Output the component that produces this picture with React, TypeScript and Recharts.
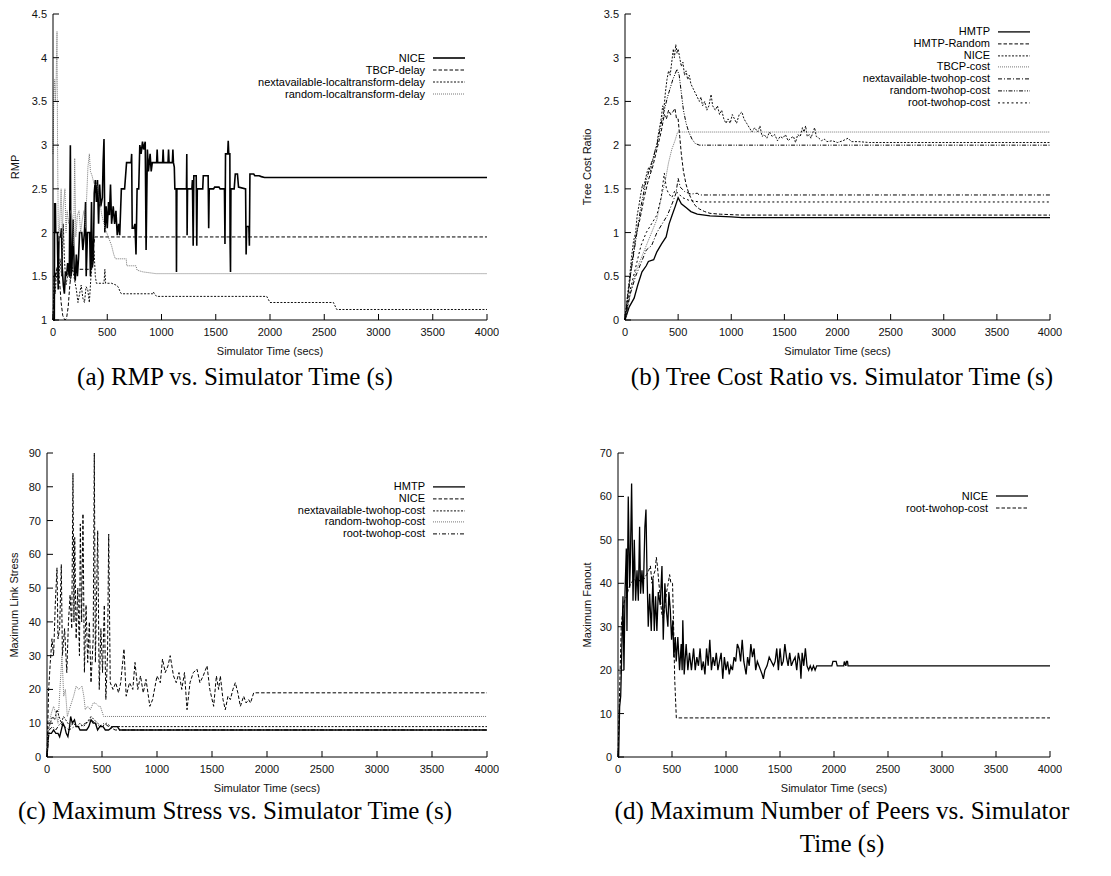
import { Legend, Line, LineChart, XAxis, YAxis } from 'recharts'

type Pt = [number, number]

const SANS = '"Liberation Sans", Arial, sans-serif'
const SERIF = '"Liberation Serif", "Times New Roman", serif'

const timeTicks = [0, 500, 1000, 1500, 2000, 2500, 3000, 3500, 4000]
const rmpTicks = [1, 1.5, 2, 2.5, 3, 3.5, 4, 4.5]
const costTicks = [0, 0.5, 1, 1.5, 2, 2.5, 3, 3.5]
const stressTicks = [0, 10, 20, 30, 40, 50, 60, 70, 80, 90]
const fanoutTicks = [0, 10, 20, 30, 40, 50, 60, 70]

// (a) RMP
const rmpNice: Pt[] = [
  [0, 1], [12, 1], [15, 2.33], [22, 2.33], [25, 2], [40, 2], [48, 1.35], [55, 1.95], [70, 1.95], [78, 2.05],
  [85, 1.6], [95, 1.4], [105, 1.3], [115, 1.55], [125, 1.5], [135, 1.65], [150, 1.5], [160, 3], [166, 1.5],
  [175, 1.6], [185, 2.15], [195, 1.6], [205, 1.45], [215, 1.75], [225, 1.5], [235, 1.7], [245, 2], [265, 2],
  [275, 1.8], [290, 2], [300, 2.35], [306, 1.5], [318, 2], [338, 2], [345, 1.5], [355, 2.35], [362, 1.6],
  [372, 1.7], [380, 2.45], [390, 2.6], [400, 2.35], [410, 2.6], [420, 2.1], [430, 2.55], [440, 2.3],
  [455, 2.4], [462, 2.8], [470, 3.07], [478, 2], [490, 2.3], [500, 2.05], [512, 2.35], [520, 2.2],
  [530, 2.55], [540, 2.1], [555, 2.3], [568, 2.1], [580, 2.25], [592, 1.97], [605, 2.1], [615, 1.97],
  [630, 2.5], [660, 2.5], [678, 2.8], [720, 2.8], [725, 2.9], [730, 2.05], [745, 2.05], [755, 2.1],
  [765, 1.75], [775, 2.5], [790, 2.5], [800, 3], [812, 2.9], [825, 3.04], [835, 2.95], [850, 3.04],
  [858, 1.8], [870, 2.95], [880, 2.7], [895, 2.9], [905, 2.7], [915, 2.8], [955, 2.8], [960, 2.95],
  [965, 2.8], [1010, 2.8], [1015, 2.95], [1020, 2.8], [1060, 2.8], [1065, 2.95], [1070, 2.8], [1100, 2.8],
  [1105, 2.95], [1110, 2.8], [1118, 2.75], [1123, 2.5], [1135, 2.5], [1138, 1.55], [1142, 2.5], [1230, 2.5],
  [1233, 2.9], [1236, 1.97], [1240, 2.5], [1280, 2.5], [1285, 2.6], [1292, 1.85], [1298, 2.65], [1320, 2.65],
  [1325, 1.85], [1330, 2.5], [1380, 2.5], [1385, 2.65], [1430, 2.65], [1435, 2.05], [1440, 2.5], [1480, 2.5],
  [1490, 2.52], [1530, 2.52], [1540, 2.5], [1580, 2.5], [1585, 1.87], [1590, 2.9], [1610, 2.9], [1615, 3.05],
  [1620, 2.9], [1630, 2.9], [1632, 1.9], [1636, 1.55], [1640, 2.5], [1670, 2.5], [1680, 2.67], [1700, 2.67],
  [1710, 2.52], [1775, 2.5], [1780, 1.75], [1785, 2.07], [1805, 2.07], [1810, 1.85], [1815, 2.67],
  [1850, 2.67], [1860, 2.65], [1900, 2.65], [1920, 2.64], [1950, 2.63], [4000, 2.63],
]
const rmpTbcp: Pt[] = [
  [0, 1], [10, 1.3], [25, 1.55], [45, 1.6], [60, 1.45], [75, 1.2], [90, 1.05], [110, 1], [125, 1.02],
  [140, 1.15], [155, 1.4], [170, 1.55], [185, 1.58], [355, 1.58], [365, 1.7], [375, 1.85], [385, 1.95], [4000, 1.95],
]
const rmpNextAvail: Pt[] = [
  [0, 1], [10, 1.5], [20, 1.3], [35, 1.6], [50, 1.4], [65, 1.7], [80, 1.5], [95, 2.1], [105, 1.7], [120, 1.4],
  [140, 1.55], [160, 1.45], [180, 1.6], [200, 1.45], [215, 1.35], [230, 1.2], [245, 1.3], [260, 1.4],
  [275, 1.25], [290, 1.2], [305, 1.38], [320, 1.35], [335, 1.2], [350, 1.5], [365, 1.7], [378, 1.8],
  [390, 1.5], [400, 1.42], [470, 1.42], [478, 1.58], [485, 1.42], [540, 1.42], [580, 1.4], [600, 1.38],
  [620, 1.32], [630, 1.3], [920, 1.3], [925, 1.32], [935, 1.3], [955, 1.27], [1970, 1.27], [2000, 1.2],
  [2585, 1.2], [2615, 1.12], [4000, 1.12],
]
const rmpRandom: Pt[] = [
  [0, 2.9], [8, 3.6], [15, 3.75], [22, 3.5], [30, 3.8], [37, 4.3], [42, 3], [48, 2.1], [55, 1.9], [65, 2.2],
  [75, 2.5], [85, 1.95], [95, 2.3], [110, 2.5], [120, 2], [130, 2.25], [145, 2.1], [160, 2.25], [175, 2.2],
  [190, 1.85], [200, 2.85], [210, 1.95], [225, 2.2], [240, 2.25], [255, 2], [270, 2.15], [285, 2.25],
  [300, 2.05], [310, 2.4], [322, 2.75], [335, 2.9], [345, 2.7], [360, 2.65], [380, 2.55], [405, 2.55],
  [425, 2.4], [450, 2.2], [480, 2.05], [510, 1.95], [540, 1.85], [560, 1.75], [575, 1.7], [675, 1.7],
  [680, 1.62], [765, 1.62], [775, 1.57], [830, 1.55], [950, 1.53], [4000, 1.53],
]

// (b) tree cost ratio
const costHmtp: Pt[] = [
  [0, 0], [40, 0.15], [86, 0.25], [120, 0.4], [160, 0.55], [200, 0.62], [220, 0.67], [270, 0.69], [300, 0.78],
  [344, 0.87], [387, 0.95], [415, 1.1], [444, 1.2], [473, 1.3], [500, 1.4], [530, 1.33], [580, 1.28],
  [620, 1.24], [680, 1.21], [800, 1.19], [1000, 1.18], [1100, 1.17], [4000, 1.17],
]
const costHmtpRandom: Pt[] = [
  [0, 0], [30, 0.3], [60, 0.6], [100, 0.95], [140, 1.15], [180, 1.4], [220, 1.6], [260, 1.75], [300, 1.95],
  [340, 2.15], [370, 2.35], [390, 2.3], [410, 2.4], [430, 2.35], [450, 2.38], [470, 2.42], [485, 2.3],
  [500, 2.3], [515, 2.1], [530, 1.9], [550, 1.7], [575, 1.55], [600, 1.45], [630, 1.37], [660, 1.31],
  [700, 1.27], [750, 1.24], [800, 1.22], [900, 1.21], [1100, 1.2], [4000, 1.2],
]
const costNice: Pt[] = [
  [0, 0], [20, 0.25], [40, 0.45], [60, 0.7], [80, 0.9], [100, 1], [115, 1.2], [130, 1.3], [150, 1.45],
  [165, 1.55], [175, 1.5], [190, 1.6], [210, 1.7], [225, 1.75], [240, 1.7], [255, 1.8], [270, 1.85],
  [285, 1.95], [300, 2], [310, 2.1], [325, 2.2], [340, 2.3], [355, 2.45], [365, 2.4], [380, 2.6],
  [395, 2.75], [410, 2.85], [425, 2.8], [440, 2.95], [455, 3.1], [465, 3], [478, 3.15], [490, 3.05],
  [500, 3.1], [515, 3], [530, 2.9], [545, 2.95], [560, 2.8], [575, 2.85], [590, 2.75], [605, 2.8],
  [620, 2.7], [640, 2.65], [660, 2.6], [680, 2.55], [700, 2.5], [715, 2.55], [730, 2.45], [750, 2.5],
  [770, 2.4], [790, 2.45], [810, 2.58], [825, 2.45], [850, 2.4], [870, 2.45], [890, 2.35], [910, 2.4],
  [930, 2.3], [950, 2.25], [970, 2.3], [990, 2.25], [1010, 2.35], [1030, 2.3], [1050, 2.25], [1075, 2.35],
  [1100, 2.38], [1120, 2.3], [1145, 2.25], [1170, 2.2], [1195, 2.15], [1220, 2.2], [1250, 2.15],
  [1270, 2.22], [1290, 2.1], [1310, 2.12], [1335, 2.08], [1360, 2.15], [1385, 2.1], [1410, 2.12],
  [1435, 2.05], [1460, 2.1], [1485, 2.08], [1510, 2.12], [1535, 2.05], [1560, 2.08], [1585, 2.1],
  [1605, 2.03], [1625, 2.12], [1650, 2.1], [1670, 2.2], [1685, 2.15], [1700, 2.22], [1715, 2.1],
  [1735, 2.12], [1750, 2.08], [1770, 2.15], [1785, 2.2], [1800, 2.1], [1825, 2.08], [1850, 2.05],
  [1875, 2.07], [1900, 2.04], [1950, 2.05], [2000, 2.03], [2050, 2.05], [2100, 2.08], [2130, 2.04],
  [2200, 2.04], [2300, 2.03], [4000, 2.03],
]
const costTbcp: Pt[] = [
  [0, 0], [50, 0.3], [100, 0.55], [150, 0.7], [200, 0.85], [250, 1], [300, 1.15], [350, 1.45], [380, 1.6],
  [410, 1.8], [440, 1.95], [470, 2.05], [495, 2.15], [4000, 2.15],
]
const costNextAvail: Pt[] = [
  [0, 0], [50, 0.3], [100, 0.5], [150, 0.65], [200, 0.8], [250, 0.85], [300, 1], [350, 1.1], [400, 1.2],
  [450, 1.35], [480, 1.45], [500, 1.62], [520, 1.52], [560, 1.47], [620, 1.44], [680, 1.45], [700, 1.43],
  [4000, 1.43],
]
const costRandom: Pt[] = [
  [0, 0], [50, 0.5], [100, 0.9], [150, 1.3], [200, 1.6], [250, 1.8], [300, 2], [350, 2.3], [400, 2.55],
  [450, 2.75], [490, 2.87], [510, 2.8], [530, 2.6], [550, 2.4], [575, 2.25], [600, 2.15], [630, 2.07],
  [660, 2.02], [700, 2], [4000, 2],
]
const costRoot: Pt[] = [
  [0, 0], [50, 0.35], [100, 0.6], [150, 0.85], [200, 1], [250, 1.1], [300, 1.2], [340, 1.4], [370, 1.68],
  [390, 1.5], [410, 1.45], [440, 1.4], [470, 1.48], [500, 1.45], [540, 1.4], [600, 1.37], [700, 1.35],
  [4000, 1.35],
]

// (c) maximum link stress
const stressHmtp: Pt[] = [
  [0, 0], [15, 7], [40, 7], [60, 8], [80, 7], [100, 7], [115, 6], [130, 8], [145, 10], [160, 9], [175, 7],
  [190, 6], [205, 9], [215, 12], [230, 10], [250, 11], [265, 9], [285, 9], [300, 8], [360, 8], [380, 9],
  [400, 11], [420, 10], [440, 10], [460, 8], [480, 9], [510, 9], [530, 8], [560, 8], [600, 9], [640, 9],
  [660, 8], [4000, 8],
]
const stressNice: Pt[] = [
  [0, 0], [15, 20], [30, 28], [45, 35], [60, 30], [75, 45], [91, 56], [100, 35], [115, 38], [130, 57],
  [140, 30], [160, 38], [180, 25], [195, 40], [210, 48], [225, 38], [236, 84], [245, 40], [252, 65],
  [265, 35], [280, 50], [295, 30], [303, 69], [315, 40], [327, 72], [340, 25], [355, 45], [370, 28],
  [385, 40], [400, 22], [420, 35], [430, 90], [440, 28], [461, 67], [475, 20], [490, 38], [505, 25],
  [521, 45], [535, 17], [550, 30], [561, 66], [575, 22], [600, 20], [625, 22], [650, 19], [670, 22],
  [700, 32], [720, 18], [750, 22], [780, 20], [800, 28], [825, 20], [850, 24], [875, 19], [900, 23],
  [935, 15], [960, 17], [1000, 24], [1030, 22], [1050, 29], [1075, 25], [1100, 27], [1120, 30],
  [1150, 24], [1175, 22], [1200, 25], [1225, 20], [1250, 25], [1273, 14], [1300, 22], [1330, 25],
  [1364, 26], [1390, 22], [1420, 24], [1455, 27], [1480, 20], [1515, 15], [1540, 24], [1560, 20],
  [1576, 24], [1600, 17], [1621, 14], [1645, 18], [1667, 17], [1690, 20], [1712, 22], [1735, 19],
  [1758, 15], [1788, 18], [1810, 16], [1833, 17], [1850, 16], [1879, 19], [4000, 19],
]
const stressNextAvail: Pt[] = [
  [0, 0], [10, 8], [30, 10], [50, 12], [70, 11], [90, 14], [110, 12], [130, 10], [150, 12], [170, 11],
  [190, 10], [210, 9], [240, 10], [270, 9], [300, 10], [330, 9], [360, 10], [400, 12], [430, 11],
  [460, 10], [500, 9], [540, 10], [580, 9], [620, 9], [4000, 9],
]
const stressRandom: Pt[] = [
  [0, 0], [20, 10], [40, 13], [60, 15], [80, 13], [100, 10], [121, 22], [136, 30], [152, 18], [167, 20],
  [185, 12], [212, 15], [242, 18], [265, 21], [288, 20], [318, 21], [335, 18], [348, 14], [370, 15],
  [394, 14], [420, 16], [440, 16], [470, 15], [485, 15], [515, 12], [550, 12], [4000, 12],
]
const stressRoot: Pt[] = [
  [0, 0], [20, 8], [50, 9], [80, 8], [120, 10], [160, 9], [200, 8], [250, 9], [300, 9], [350, 10],
  [400, 11], [440, 10], [480, 9], [520, 10], [560, 9], [620, 8], [4000, 8],
]

// (d) maximum fanout
const fanoutNice: Pt[] = [
  [0, 0], [6, 0], [15, 11.5], [25, 14], [31, 20], [46, 37], [55, 20], [65, 38], [77, 48], [83, 29], [95, 60],
  [108, 39], [114, 44.5], [126, 63], [139, 36], [151, 50], [163, 36], [176, 43], [188, 36], [200, 53],
  [209, 37.6], [222, 43], [234, 37.6], [249, 53], [259, 57], [268, 43], [280, 30], [293, 37.6], [308, 29],
  [323, 41], [336, 29], [348, 37], [360, 29], [373, 38], [391, 35], [407, 44], [419, 27], [434, 40],
  [447, 34], [462, 30], [471, 38], [484, 34], [496, 27], [508, 31.5], [517, 23], [530, 27.6], [539, 22],
  [554, 27.6], [570, 20], [585, 26], [594, 20], [600, 31.5], [613, 19], [631, 26], [647, 20], [662, 24],
  [680, 20], [700, 25], [715, 20], [730, 23], [745, 21], [760, 25], [775, 20], [790, 22], [805, 19],
  [820, 25], [835, 21], [850, 27], [865, 20], [880, 23], [895, 21], [910, 24], [925, 20], [940, 22],
  [955, 24], [970, 18], [985, 23], [1000, 20], [1015, 22], [1030, 19], [1045, 21], [1060, 20], [1075, 23],
  [1090, 22], [1105, 26], [1120, 25], [1135, 22], [1150, 27], [1165, 22], [1186, 19], [1200, 23],
  [1215, 21], [1230, 26], [1245, 23], [1260, 25], [1275, 20], [1290, 22], [1305, 21], [1320, 20],
  [1335, 19], [1346, 18], [1360, 20], [1380, 21], [1400, 23], [1420, 22], [1440, 21], [1455, 22],
  [1470, 25], [1485, 20], [1500, 25], [1515, 21], [1530, 22], [1545, 26], [1560, 23], [1575, 21],
  [1590, 24], [1605, 21], [1620, 22], [1640, 23], [1655, 20], [1670, 24], [1685, 22], [1694, 18],
  [1705, 24], [1720, 21], [1735, 25], [1750, 21], [1765, 20], [1780, 21], [1795, 20], [1810, 21],
  [1825, 20], [1840, 21], [1980, 21], [1990, 22], [2020, 22], [2030, 21], [2090, 21], [2095, 22],
  [2110, 21], [2115, 22], [2125, 22], [2130, 21], [4000, 21],
]
const fanoutRoot: Pt[] = [
  [0, 0], [15, 15], [30, 30], [45, 34], [60, 36], [80, 37], [100, 39], [120, 40], [150, 41], [180, 40],
  [210, 41], [240, 41], [265, 42], [285, 43], [300, 44], [315, 40], [330, 42], [345, 43], [355, 46],
  [365, 44], [375, 41], [390, 37], [405, 33], [420, 32], [435, 35], [450, 38], [465, 40], [478, 42],
  [490, 40], [505, 40], [515, 30], [525, 18], [540, 9], [4000, 9],
]

// gnuplot line types
const LT = {
  solid: { dash: undefined, color: '#000', width: 1.3 },
  dashed: { dash: '3.5 2', color: '#000', width: 1 },
  short: { dash: '2 1.5', color: '#111', width: 1 },
  dotted: { dash: '1 1', color: '#777', width: 1 },
  dashDot: { dash: '4 2 1 2', color: '#000', width: 1 },
  dashDotDot: { dash: '4 1.5 1 1.5 1 1.5', color: '#000', width: 1 },
  sparse: { dash: '2 2.5', color: '#000', width: 1 },
}

interface Series {
  name: string
  pts: Pt[]
  lt: keyof typeof LT
  width?: number
}

interface PanelProps {
  plot: [number, number, number, number]
  yDomain: [number, number]
  yTicks: number[]
  yLabel: string
  yLabelGap: number
  series: Series[]
  legendTop: number
  legendRight: number
  rowH: number
}

const YW = 45
const TOP = 10
const RIGHT = 12
const XH = 45

function LegendBox({ series, rowH }: { series: Series[]; rowH: number }) {
  return (
    <div style={{ fontFamily: SANS, fontSize: 11, color: '#000' }}>
      {series.map((s) => {
        const st = LT[s.lt]
        return (
          <div
            key={s.name}
            style={{ display: 'flex', justifyContent: 'flex-end', alignItems: 'center', height: rowH }}
          >
            <span style={{ lineHeight: `${rowH}px`, marginRight: 8, whiteSpace: 'nowrap' }}>{s.name}</span>
            <svg width={32} height={rowH} style={{ display: 'block' }}>
              <line
                x1={0}
                x2={32}
                y1={rowH / 2}
                y2={rowH / 2}
                stroke={st.color}
                strokeWidth={s.width ?? st.width}
                strokeDasharray={st.dash}
              />
            </svg>
          </div>
        )
      })}
    </div>
  )
}

function Panel({ plot, yDomain, yTicks, yLabel, yLabelGap, series, legendTop, legendRight, rowH }: PanelProps) {
  const [px, py, pw, ph] = plot
  const left = px - YW
  const top = py - TOP
  const width = pw + YW + RIGHT
  const height = ph + TOP + XH
  const legendW = 320

  return (
    <div style={{ position: 'absolute', left, top }}>
      <LineChart width={width} height={height} margin={{ top: TOP, right: RIGHT, bottom: 0, left: 0 }}>
        <XAxis
          dataKey="t"
          type="number"
          domain={[0, 4000]}
          ticks={timeTicks}
          height={XH}
          tickSize={0}
          tickMargin={0}
          tickLine={false}
          axisLine={{ stroke: '#000' }}
          interval={0}
          tick={(p: any) => (
            <g>
              <line x1={p.x} x2={p.x} y1={p.y} y2={p.y - 6} stroke="#000" />
              <text x={p.x} y={p.y + 16} textAnchor="middle" fontSize={11} fontFamily={SANS} fill="#111">
                {p.payload.value}
              </text>
            </g>
          )}
          label={({ viewBox }: any) => (
            <text
              x={viewBox.x + viewBox.width / 2}
              y={viewBox.y + 35}
              textAnchor="middle"
              fontSize={11}
              fontFamily={SANS}
              fill="#111"
            >
              Simulator Time (secs)
            </text>
          )}
        />
        <XAxis
          xAxisId="top"
          orientation="top"
          type="number"
          domain={[0, 4000]}
          ticks={timeTicks}
          height={0}
          tickSize={0}
          tickMargin={0}
          tickLine={false}
          axisLine={{ stroke: '#000' }}
          interval={0}
          tick={(p: any) => <line x1={p.x} x2={p.x} y1={p.y} y2={p.y + 6} stroke="#000" />}
        />
        <YAxis
          type="number"
          domain={yDomain}
          ticks={yTicks}
          width={YW}
          tickSize={0}
          tickMargin={0}
          tickLine={false}
          axisLine={{ stroke: '#000' }}
          interval={0}
          tick={(p: any) => (
            <g>
              <line x1={p.x} x2={p.x + 6} y1={p.y} y2={p.y} stroke="#000" />
              <text x={p.x - 6} y={p.y + 4} textAnchor="end" fontSize={11} fontFamily={SANS} fill="#111">
                {p.payload.value}
              </text>
            </g>
          )}
          label={({ viewBox }: any) => {
            const cx = viewBox.x + viewBox.width - yLabelGap
            const cy = viewBox.y + viewBox.height / 2
            return (
              <text
                x={cx}
                y={cy + 4}
                transform={`rotate(-90 ${cx} ${cy})`}
                textAnchor="middle"
                fontSize={11}
                fontFamily={SANS}
                fill="#111"
              >
                {yLabel}
              </text>
            )
          }}
        />
        <YAxis
          yAxisId="right"
          orientation="right"
          type="number"
          domain={yDomain}
          ticks={yTicks}
          width={0}
          tickSize={0}
          tickMargin={0}
          tickLine={false}
          axisLine={{ stroke: '#000' }}
          interval={0}
          tick={(p: any) => <line x1={p.x} x2={p.x - 6} y1={p.y} y2={p.y} stroke="#000" />}
        />
        {series.map((s) => {
          const st = LT[s.lt]
          return (
            <Line
              key={s.name}
              name={s.name}
              data={s.pts.map(([t, v]) => ({ t, v }))}
              dataKey="v"
              type="linear"
              stroke={st.color}
              strokeWidth={s.width ?? st.width}
              strokeDasharray={st.dash}
              dot={false}
              activeDot={false}
              isAnimationActive={false}
            />
          )
        })}
        <Legend
          layout="vertical"
          align="center"
          verticalAlign="middle"
          wrapperStyle={{
            left: legendRight - left - legendW,
            top: legendTop - top,
            width: legendW,
            height: 'auto',
          }}
          content={() => <LegendBox series={series} rowH={rowH} />}
        />
      </LineChart>
    </div>
  )
}

const captionStyle: React.CSSProperties = {
  position: 'absolute',
  width: 600,
  textAlign: 'center',
  fontFamily: SERIF,
  fontSize: 25,
  lineHeight: '30px',
  whiteSpace: 'nowrap',
  color: '#000',
}

export default function App() {
  return (
    <div style={{ position: 'absolute', left: 0, top: 0, width: 1111, height: 876, background: '#fff' }}>
      <Panel
        plot={[53, 14, 434, 306]}
        yDomain={[1, 4.5]}
        yTicks={rmpTicks}
        yLabel="RMP"
        yLabelGap={38}
        legendTop={52}
        legendRight={465}
        rowH={12}
        series={[
          { name: 'NICE', pts: rmpNice, lt: 'solid', width: 1.6 },
          { name: 'TBCP-delay', pts: rmpTbcp, lt: 'dashed' },
          { name: 'nextavailable-localtransform-delay', pts: rmpNextAvail, lt: 'short' },
          { name: 'random-localtransform-delay', pts: rmpRandom, lt: 'dotted' },
        ]}
      />
      <Panel
        plot={[625, 14, 425, 306]}
        yDomain={[0, 3.5]}
        yTicks={costTicks}
        yLabel="Tree Cost Ratio"
        yLabelGap={38}
        legendTop={26}
        legendRight={1030}
        rowH={11.8}
        series={[
          { name: 'HMTP', pts: costHmtp, lt: 'solid' },
          { name: 'HMTP-Random', pts: costHmtpRandom, lt: 'dashed' },
          { name: 'NICE', pts: costNice, lt: 'short' },
          { name: 'TBCP-cost', pts: costTbcp, lt: 'dotted' },
          { name: 'nextavailable-twohop-cost', pts: costNextAvail, lt: 'dashDot' },
          { name: 'random-twohop-cost', pts: costRandom, lt: 'dashDotDot' },
          { name: 'root-twohop-cost', pts: costRoot, lt: 'sparse' },
        ]}
      />
      <Panel
        plot={[47, 453, 440, 304]}
        yDomain={[0, 90]}
        yTicks={stressTicks}
        yLabel="Maximum Link Stress"
        yLabelGap={33}
        legendTop={481}
        legendRight={465}
        rowH={11.8}
        series={[
          { name: 'HMTP', pts: stressHmtp, lt: 'solid' },
          { name: 'NICE', pts: stressNice, lt: 'dashed' },
          { name: 'nextavailable-twohop-cost', pts: stressNextAvail, lt: 'short' },
          { name: 'random-twohop-cost', pts: stressRandom, lt: 'dotted' },
          { name: 'root-twohop-cost', pts: stressRoot, lt: 'dashDot' },
        ]}
      />
      <Panel
        plot={[618, 453, 432, 304]}
        yDomain={[0, 70]}
        yTicks={fanoutTicks}
        yLabel="Maximum Fanout"
        yLabelGap={31}
        legendTop={490}
        legendRight={1028}
        rowH={12}
        series={[
          { name: 'NICE', pts: fanoutNice, lt: 'solid' },
          { name: 'root-twohop-cost', pts: fanoutRoot, lt: 'dashed' },
        ]}
      />
      <div style={{ ...captionStyle, left: 235 - 300, top: 362 }}>(a) RMP vs. Simulator Time (s)</div>
      <div style={{ ...captionStyle, left: 842 - 300, top: 362 }}>(b) Tree Cost Ratio vs. Simulator Time (s)</div>
      <div style={{ ...captionStyle, left: 235 - 300, top: 796 }}>(c) Maximum Stress vs. Simulator Time (s)</div>
      <div style={{ ...captionStyle, left: 842 - 300, top: 796 }}>(d) Maximum Number of Peers vs. Simulator</div>
      <div style={{ ...captionStyle, left: 842 - 300, top: 829 }}>Time (s)</div>
    </div>
  )
}
